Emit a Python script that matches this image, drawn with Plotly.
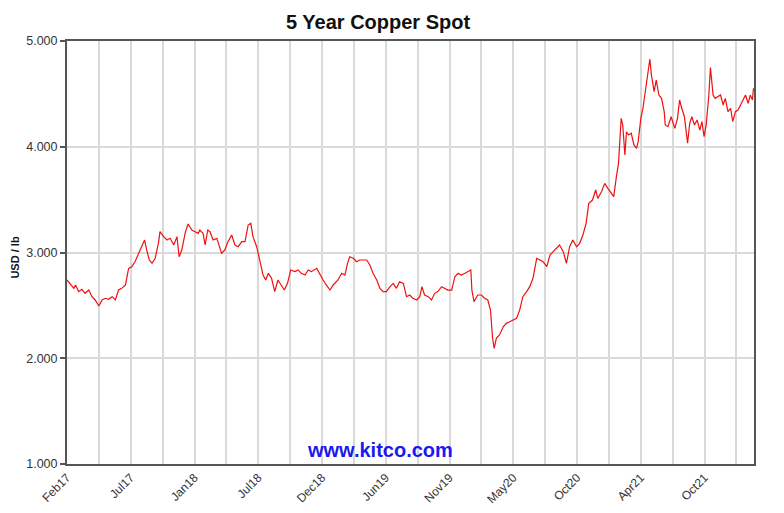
import plotly.graph_objects as go

# Trading-day index (0 = start of Feb 2017) and spot price in USD/lb
day = [0, 6, 13, 16, 22, 28, 34, 41, 47, 53, 60, 66, 72, 78, 85, 91, 97, 103, 110, 116,
       122, 128, 135, 141, 146, 150, 155, 160, 166, 172, 175, 182, 188, 194, 201, 207, 211, 216, 223, 228,
       235, 241, 247, 250, 256, 260, 265, 269, 275, 282, 285, 291, 297, 303, 310, 316, 322, 329, 335, 341,
       346, 350, 357, 363, 369, 374, 379, 385, 391, 397, 404, 409, 415, 421, 429, 435, 441, 448, 454, 460,
       470, 476, 482, 488, 495, 501, 510, 517, 523, 528, 532, 539, 545, 551, 557, 564, 570, 576, 583, 589,
       595, 601, 608, 614, 620, 626, 633, 639, 645, 651, 658, 664, 668, 673, 680, 686, 692, 698, 705, 711,
       717, 724, 730, 736, 742, 749, 755, 760, 762, 766, 773, 780, 786, 792, 797, 801, 804, 808, 814, 821,
       827, 833, 840, 846, 852, 858, 865, 871, 877, 884, 890, 896, 903, 909, 915, 921, 927, 934, 940, 946,
       952, 959, 965, 971, 977, 982, 989, 995, 999, 1006, 1012, 1018, 1025, 1029, 1034, 1038, 1043, 1046, 1050, 1053,
       1057, 1062, 1067, 1072, 1075, 1080, 1084, 1087, 1092, 1097, 1100, 1105, 1109, 1114, 1119, 1124, 1126, 1131, 1137, 1144,
       1149, 1153, 1157, 1162, 1168, 1172, 1176, 1181, 1186, 1191, 1195, 1199, 1203, 1208, 1211, 1216, 1220, 1225, 1230, 1235,
       1239, 1244, 1249, 1253, 1258, 1263, 1268, 1272, 1277, 1282, 1286, 1290, 1292]

price = [2.740, 2.708, 2.661, 2.693, 2.630, 2.652, 2.614, 2.645, 2.582, 2.551, 2.494, 2.551, 2.567, 2.557, 2.582, 2.551, 2.645, 2.661, 2.693, 2.850,
         2.866, 2.913, 2.992, 3.055, 3.118, 3.024, 2.929, 2.898, 2.945, 3.087, 3.197, 3.150, 3.118, 3.134, 3.071, 3.150, 2.960, 3.024, 3.197, 3.270,
         3.213, 3.197, 3.181, 3.213, 3.181, 3.071, 3.213, 3.197, 3.118, 3.134, 3.087, 2.992, 3.024, 3.102, 3.165, 3.071, 3.055, 3.102, 3.102, 3.260,
         3.276, 3.150, 3.055, 2.913, 2.787, 2.740, 2.803, 2.756, 2.630, 2.740, 2.677, 2.645, 2.708, 2.835, 2.819, 2.835, 2.803, 2.787, 2.835, 2.819,
         2.850, 2.787, 2.740, 2.693, 2.645, 2.693, 2.740, 2.803, 2.787, 2.898, 2.960, 2.945, 2.913, 2.929, 2.929, 2.929, 2.882, 2.803, 2.740, 2.661,
         2.630, 2.630, 2.677, 2.708, 2.661, 2.724, 2.708, 2.582, 2.598, 2.567, 2.551, 2.582, 2.677, 2.598, 2.582, 2.551, 2.614, 2.630, 2.677, 2.661,
         2.645, 2.645, 2.771, 2.803, 2.787, 2.803, 2.819, 2.835, 2.645, 2.535, 2.598, 2.598, 2.567, 2.551, 2.456, 2.189, 2.094, 2.189, 2.220, 2.298,
         2.330, 2.346, 2.362, 2.377, 2.456, 2.582, 2.630, 2.677, 2.756, 2.945, 2.929, 2.913, 2.866, 2.976, 3.008, 3.039, 3.071, 3.008, 2.898, 3.055,
         3.118, 3.055, 3.087, 3.165, 3.276, 3.465, 3.496, 3.591, 3.512, 3.575, 3.654, 3.607, 3.560, 3.528, 3.717, 3.843, 4.269, 4.206, 3.922, 4.142,
         4.111, 4.127, 4.017, 3.985, 4.048, 4.269, 4.364, 4.474, 4.647, 4.830, 4.678, 4.521, 4.631, 4.489, 4.458, 4.332, 4.206, 4.190, 4.284, 4.174,
         4.269, 4.442, 4.364, 4.284, 4.033, 4.222, 4.284, 4.206, 4.253, 4.158, 4.237, 4.095, 4.206, 4.489, 4.748, 4.489, 4.458, 4.474, 4.489, 4.395,
         4.458, 4.332, 4.364, 4.237, 4.332, 4.347, 4.395, 4.442, 4.489, 4.411, 4.489, 4.442, 4.553]

# x-axis ticks (every 60 trading days; labels every other)
tick_days = [0, 60, 120, 180, 240, 300, 360, 420, 480, 540, 600, 660, 720, 780, 840, 900, 960, 1020, 1080, 1140, 1200, 1260]
tick_text = ["Feb17", "", "Jul17", "", "Jan18", "", "Jul18", "", "Dec18", "", "Jun19", "",
             "Nov19", "", "May20", "", "Oct20", "", "Apr21", "", "Oct21", ""]
y_ticks = [1, 2, 3, 4, 5]

FONT = "Arial, Liberation Sans, sans-serif"

fig = go.Figure()
fig.add_trace(go.Scatter(x=day, y=price, mode="lines",
                         line=dict(color="#f01010", width=1.2), hoverinfo="x+y"))

fig.update_layout(
    width=776, height=505,
    margin=dict(l=59, r=30, t=33, b=49, autoexpand=False),
    paper_bgcolor="white", plot_bgcolor="white",
    showlegend=False,
    font=dict(family=FONT, color="#333333", size=12),
)

fig.update_xaxes(
    range=[0, 1293], tickmode="array", tickvals=tick_days, ticktext=tick_text,
    tickangle=-45, ticks="", showgrid=True, gridcolor="#d9d9d9", gridwidth=1.5,
    showline=True, linecolor="#555555", linewidth=2, mirror=True,
    tickfont=dict(size=12, color="#333333"), zeroline=False, automargin=False,
)
fig.update_yaxes(
    range=[1, 5], tickmode="array", tickvals=y_ticks, tickformat=".3f",
    ticks="outside", ticklen=5, tickcolor="#555555", tickwidth=1.5,
    showgrid=True, gridcolor="#d9d9d9", gridwidth=1.5,
    showline=True, linecolor="#555555", linewidth=2, mirror=True,
    tickfont=dict(size=12.5, color="#333333"), zeroline=False, automargin=False,
)

# Title
fig.add_annotation(text="<b>5 Year Copper Spot</b>", xref="paper", yref="paper",
                   x=0.453, y=1.045, xanchor="center", yanchor="middle", showarrow=False,
                   font=dict(family=FONT, size=20, color="#111111"))
# Y-axis title
fig.add_annotation(text="<b>USD / lb</b>", xref="paper", yref="paper",
                   x=-0.0757, y=0.488, xanchor="center", yanchor="middle", showarrow=False,
                   textangle=-90, font=dict(family=FONT, size=11, color="#111111"))
# Watermark
fig.add_annotation(text="<b>www.kitco.com</b>", xref="paper", yref="paper",
                   x=0.456, y=0.033, xanchor="center", yanchor="middle", showarrow=False,
                   font=dict(family=FONT, size=20, color="#1a1aee"))

fig.write_html("out.html")
